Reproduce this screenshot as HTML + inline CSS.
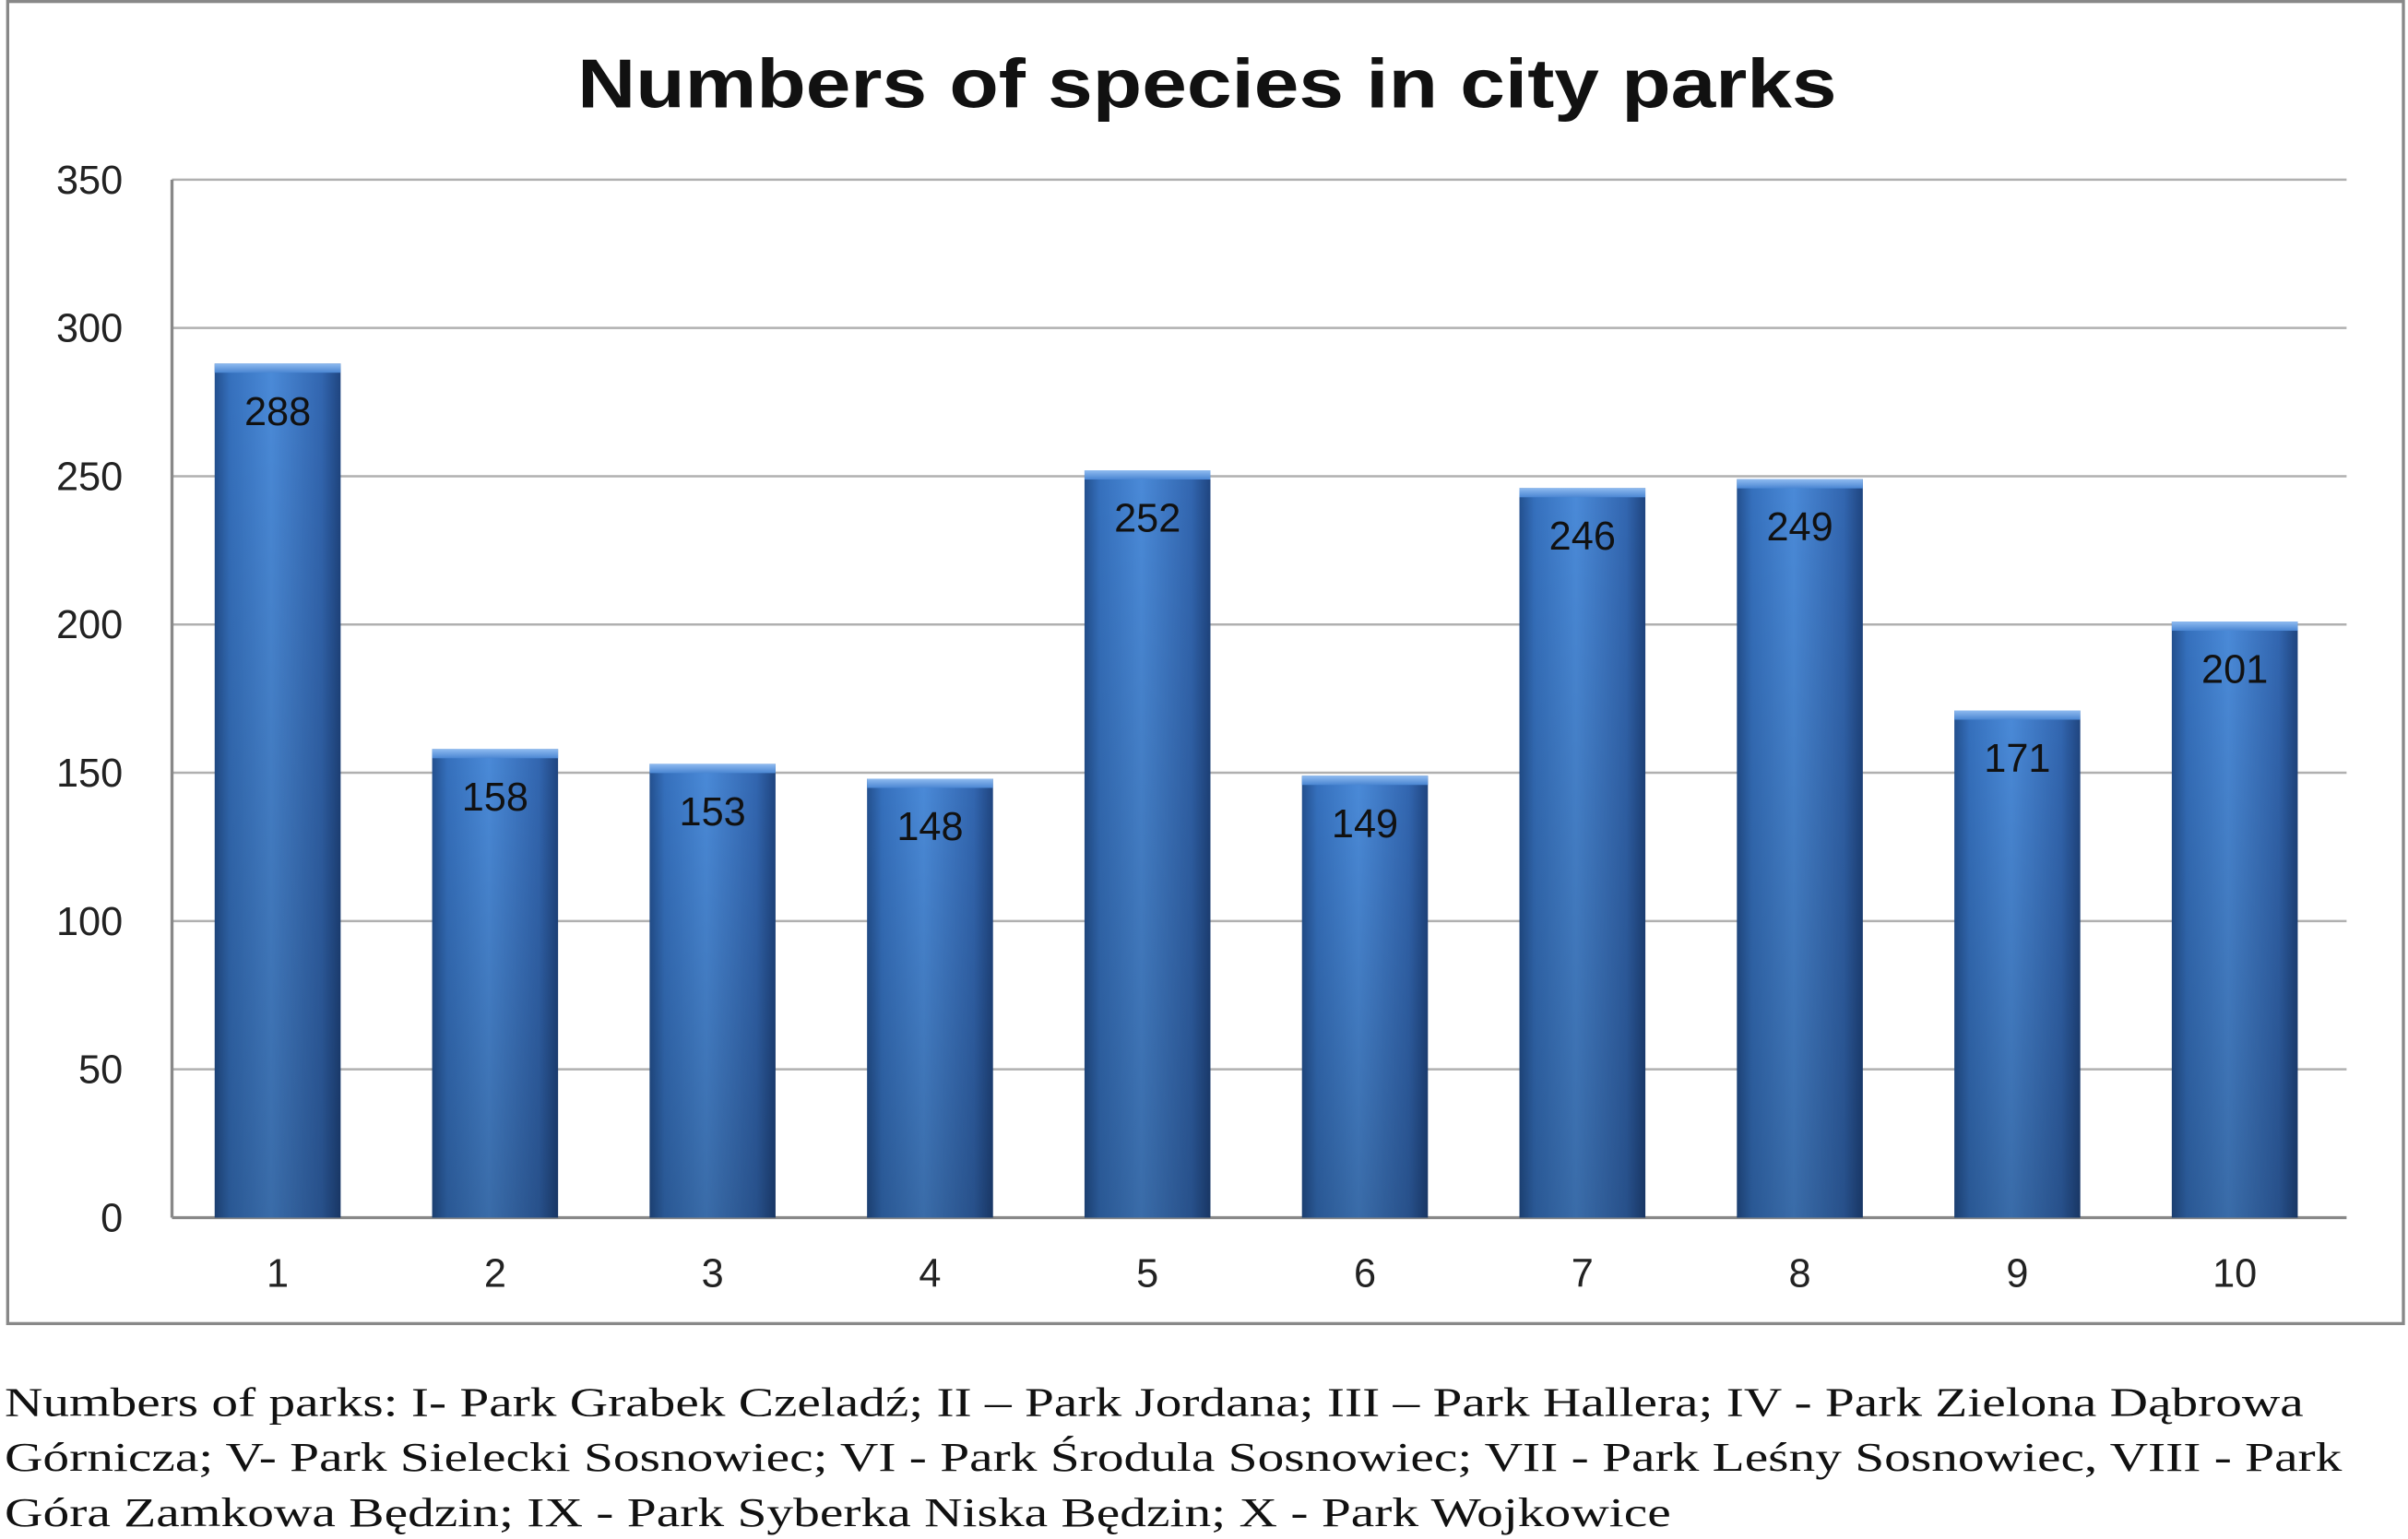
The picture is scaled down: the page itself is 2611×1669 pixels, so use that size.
<!DOCTYPE html>
<html><head><meta charset="utf-8"><style>
html,body{margin:0;padding:0;background:#fff;}
svg{display:block;}
</style></head><body>
<svg id="chart" width="2611" height="1669" viewBox="0 0 1568 1002.3" preserveAspectRatio="none" xmlns="http://www.w3.org/2000/svg">
<defs>
<linearGradient id="barGrad" x1="0" y1="0" x2="1" y2="0">
<stop offset="0" stop-color="#23508f"/>
<stop offset="0.12" stop-color="#3570bd"/>
<stop offset="0.45" stop-color="#4a8ad8"/>
<stop offset="0.85" stop-color="#3266b0"/>
<stop offset="1" stop-color="#1f4580"/>
</linearGradient>
<linearGradient id="topGrad" x1="0" y1="0" x2="0" y2="1">
<stop offset="0" stop-color="#8fbbf0"/>
<stop offset="1" stop-color="#4a86d2"/>
</linearGradient>
<linearGradient id="vshade" x1="0" y1="0" x2="0" y2="1">
<stop offset="0" stop-color="#000" stop-opacity="0"/>
<stop offset="1" stop-color="#000" stop-opacity="0.22"/>
</linearGradient>
</defs>
<rect x="5" y="1" width="1560" height="861" fill="#fff" stroke="#888" stroke-width="2"/>
<text x="376" y="70" textLength="820" lengthAdjust="spacingAndGlyphs" font-family="Liberation Sans, sans-serif" font-weight="bold" font-size="45" fill="#111">Numbers of species in city parks</text>
<g id="grid"></g>
<g id="bars"></g>
<g id="xlabels"></g>
<g font-family="Liberation Serif, serif" font-size="27" fill="#111">
<text x="3" y="922" textLength="1497" lengthAdjust="spacingAndGlyphs">Numbers of parks: I- Park Grabek Czeladź; II – Park Jordana; III – Park Hallera; IV - Park Zielona Dąbrowa</text>
<text x="3" y="958" textLength="1522" lengthAdjust="spacingAndGlyphs">Górnicza; V- Park Sielecki Sosnowiec; VI - Park Środula Sosnowiec; VII - Park Leśny Sosnowiec, VIII - Park</text>
<text x="3" y="994" textLength="1085" lengthAdjust="spacingAndGlyphs">Góra Zamkowa Będzin; IX - Park Syberka Niska Będzin; X - Park Wojkowice</text>
</g>
</svg>
<script>
const categories = ["1","2","3","4","5","6","7","8","9","10"];
const values = [288,158,153,148,252,149,246,249,171,201];
const yTicks = [0,50,100,150,200,250,300,350];

const NS = "http://www.w3.org/2000/svg";
const plotL = 112, plotR = 1528, y0 = 793, y350 = 117;
const yMax = 350;
function yScale(v){ return y0 - (v / yMax) * (y0 - y350); }
const step = (plotR - plotL) / categories.length;
function xCenter(i){ return plotL + step * (i + 0.5) - 2; }
const barW = 82;

function mk(tag, attrs, parent){
  const el = document.createElementNS(NS, tag);
  for (const k in attrs) el.setAttribute(k, attrs[k]);
  parent.appendChild(el);
  return el;
}
const grid = document.getElementById('grid');
yTicks.forEach(t => {
  const y = yScale(t);
  const ln = mk('line', {x1: plotL, x2: plotR, y1: y, y2: y, stroke: t === 0 ? '#888' : '#b0b0b0', 'stroke-width': t === 0 ? 2 : 1.5}, grid);
  
  
  const tx = mk('text', {x: 80, y: y + 9, 'text-anchor': 'end', 'font-family': 'Liberation Sans, sans-serif', 'font-size': 26, fill: '#222'}, grid);
  tx.textContent = t;
  
  
});
const yAxis = mk('line', {x1: plotL, x2: plotL, y1: y350, y2: y0, stroke: '#888', 'stroke-width': 2}, grid);



const bars = document.getElementById('bars');
const xl = document.getElementById('xlabels');
values.forEach((v, i) => {
  const cx = xCenter(i);
  const top = yScale(v);
  const g = mk('g', {}, bars);
  
  
  mk('rect', {x: cx - barW/2, y: top, width: barW, height: y0 - top, fill: 'url(#barGrad)'}, g);
  mk('rect', {x: cx - barW/2, y: top, width: barW, height: y0 - top, fill: 'url(#vshade)'}, g);
  mk('rect', {x: cx - barW/2, y: top, width: barW, height: 6, fill: 'url(#topGrad)'}, g);
  const lbl = mk('text', {x: cx, y: top + 40, 'text-anchor': 'middle', 'font-family': 'Liberation Sans, sans-serif', 'font-size': 26, fill: '#111'}, g);
  lbl.textContent = v;
  
  
  const xt = mk('text', {x: cx, y: 838, 'text-anchor': 'middle', 'font-family': 'Liberation Sans, sans-serif', 'font-size': 26, fill: '#222'}, xl);
  xt.textContent = categories[i];
  
  
});
</script>
</body></html>
